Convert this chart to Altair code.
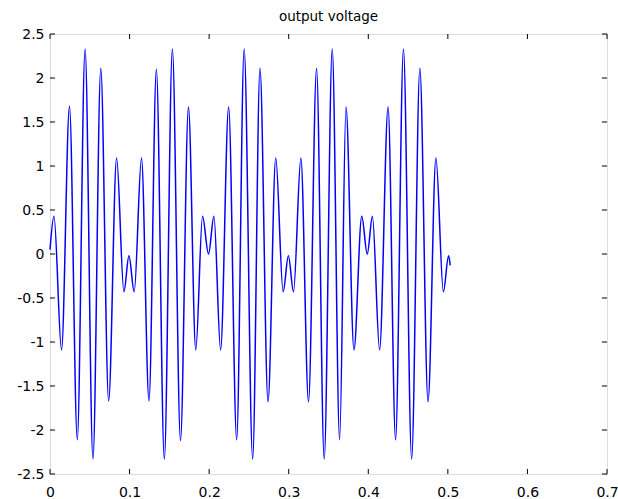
import altair as alt
import pandas as pd

# extrema of the waveform (time in s, voltage)
time_s = [0.0, 0.0050, 0.0145, 0.0245, 0.0343, 0.0441, 0.0540, 0.0638, 0.0737, 0.0837,
          0.0929, 0.0992, 0.1058, 0.1150, 0.1244, 0.1337, 0.1437, 0.1538, 0.1640, 0.1740,
          0.1832, 0.1917, 0.1992, 0.2060, 0.2144, 0.2245, 0.2346, 0.2440, 0.2547, 0.2639,
          0.2740, 0.2837, 0.2930, 0.2996, 0.3060, 0.3153, 0.3249, 0.3350, 0.3446, 0.3547,
          0.3640, 0.3720, 0.3820, 0.3918, 0.3987, 0.4052, 0.4142, 0.4249, 0.4343, 0.4442,
          0.4545, 0.4648, 0.4751, 0.4850, 0.4944, 0.5009, 0.5030]
voltage = [0.05, 0.43, -1.09, 1.68, -2.11, 2.33, -2.33, 2.11, -1.67, 1.09,
           -0.43, -0.02, -0.43, 1.09, -1.67, 2.10, -2.33, 2.33, -2.12, 1.67,
           -1.09, 0.43, 0.00, 0.43, -1.09, 1.67, -2.11, 2.33, -2.33, 2.11,
           -1.68, 1.09, -0.43, -0.02, -0.43, 1.09, -1.68, 2.11, -2.33, 2.33,
           -2.11, 1.67, -1.09, 0.43, 0.00, 0.43, -1.09, 1.67, -2.11, 2.33,
           -2.33, 2.11, -1.68, 1.09, -0.43, -0.02, -0.13]

x_ticks = [0, 0.1, 0.2, 0.3, 0.4, 0.5, 0.6, 0.7]
y_ticks = [-2.5, -2, -1.5, -1, -0.5, 0, 0.5, 1, 1.5, 2, 2.5]

W, H = 557, 440
FONT = "DejaVu Sans"

df = pd.DataFrame({"t": time_s, "v": voltage})
xt = pd.DataFrame({"t": x_ticks})
yt = pd.DataFrame({"v": y_ticks})

xs = alt.Scale(domain=[0, 0.7], nice=False, zero=False)
ys = alt.Scale(domain=[-2.5, 2.5], nice=False, zero=False)

x_axis = alt.Axis(values=x_ticks, title=None, grid=False, ticks=False, domain=False,
                  labelExpr="toString(datum.value)", labelPadding=11, labelFontSize=14,
                  labelFont=FONT, labelColor="black", labelFlush=False)
y_axis = alt.Axis(values=y_ticks, title=None, grid=False, ticks=False, domain=False,
                  labelExpr="toString(datum.value)", labelPadding=6, labelFontSize=14,
                  labelFont=FONT, labelColor="black", labelFlush=False)

X = alt.X("t:Q", scale=xs, axis=x_axis)
Y = alt.Y("v:Q", scale=ys, axis=y_axis)

line = alt.Chart(df).mark_line(color="#0000ff", strokeWidth=1.5,
                               interpolate="monotone").encode(x=X, y=Y)

tick_bottom = alt.Chart(xt).mark_rule(color="black").encode(x=X, y=alt.value(H), y2=alt.value(H - 5))
tick_top = alt.Chart(xt).mark_rule(color="black").encode(x=X, y=alt.value(0), y2=alt.value(5))
tick_left = alt.Chart(yt).mark_rule(color="black").encode(y=Y, x=alt.value(0), x2=alt.value(5))
tick_right = alt.Chart(yt).mark_rule(color="black").encode(y=Y, x=alt.value(W), x2=alt.value(W - 5))

chart = alt.layer(line, tick_bottom, tick_top, tick_left, tick_right).properties(
    width=W, height=H,
    title=alt.TitleParams("output voltage", font=FONT, fontSize=13.5, fontWeight="normal",
                          color="black", anchor="middle", offset=4),
    padding={"left": 50, "top": 34, "right": 11, "bottom": 25},
    autosize=alt.AutoSizeParams(type="none"),
).configure_view(stroke="black", strokeWidth=1).configure(background="white")

chart.save("out.html", embed_options={"renderer": "svg", "actions": False})
